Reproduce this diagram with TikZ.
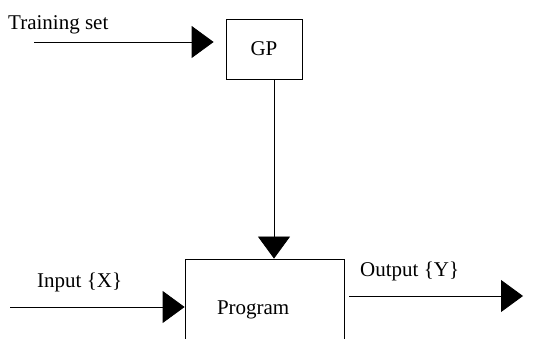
\documentclass[tikz,border=0pt]{standalone}
\usepackage{fontspec}
\setmainfont{Liberation Serif}
\usetikzlibrary{arrows.meta, positioning}
\tikzset{every node/.style={ % text size of the whole picture
font=\fontsize{21}{25}\selectfont},
block/.style={ % boxes
draw, line width=0.8pt, inner sep=0pt},
tag/.style={ % free labels
anchor=base west, inner sep=0pt},
flow/.style={ % connectors with big solid heads
draw, line width=0.8pt, -{Triangle[length=22pt,width=32pt]}}}
\begin{document}
\begin{tikzpicture}[x=1pt, y=-1pt]
    \useasboundingbox (0,0) rectangle (536,339);
    \clip (0,0) rectangle (536,339);

    \node[block, minimum width=76pt, minimum height=60pt] (gp) at (264,49) {GP};
    \node[block, minimum width=159pt, minimum height=102pt, text width=95pt,
          inner xsep=32pt, align=left] (prog) at (264.5,310) {Program};

    \coordinate (train) at (34,42);
    \coordinate (in) at (10,307);
    \coordinate (out) at (523,296);

    \node[tag] (trainlbl) at (8,30) {Training set};
    \node[tag] (inlbl) at (37,288) {Input \{X\}};
    \node[tag] (outlbl) at (360,277) {Output \{Y\}};

    \draw[flow, shorten >=12pt] (train) -- (train -| gp.west);
    \draw[flow] ([xshift=10pt]gp.south) -- ([xshift=10pt]gp.south |- prog.north);
    \draw[flow] (in) -- (in -| prog.west);
    \draw[flow, shorten <=5pt] (out -| prog.east) -- (out);

\end{tikzpicture}
\end{document}
